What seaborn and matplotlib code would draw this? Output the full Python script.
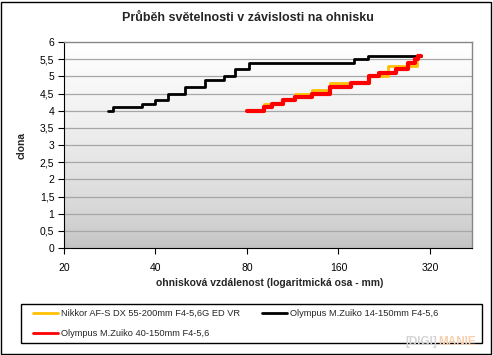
import matplotlib

matplotlib.use("Agg")
import matplotlib.pyplot as plt
import numpy as np
import seaborn as sns
from matplotlib.patches import Rectangle
from matplotlib.ticker import FixedLocator, FuncFormatter, NullLocator

# focal length (35mm equivalent) where each aperture step begins, and the aperture from there on
nikkor_fl = [82, 91, 105, 115, 131, 150, 202, 233, 290, 300]
nikkor_ap = [4.0, 4.2, 4.3, 4.5, 4.6, 4.8, 5.0, 5.3, 5.6, 5.6]

zuiko14_fl = [28, 29, 36, 40, 44, 50, 58, 67, 73, 81, 180, 200, 300]
zuiko14_ap = [4.0, 4.1, 4.2, 4.3, 4.5, 4.7, 4.9, 5.0, 5.2, 5.4, 5.5, 5.6, 5.6]

zuiko40_fl = [80, 91, 97, 105, 115, 131, 150, 176, 202, 217, 247, 271, 286, 292, 300]
zuiko40_ap = [4.0, 4.1, 4.2, 4.3, 4.4, 4.5, 4.7, 4.8, 5.0, 5.1, 5.2, 5.4, 5.5, 5.6, 5.6]

x_ticks = [20, 40, 80, 160, 320]
y_ticks = np.arange(0, 6.01, 0.5)

series = [
    ("Nikkor AF-S DX 55-200mm F4-5,6G ED VR", nikkor_fl, nikkor_ap, "#ffc000", 2.0),
    ("Olympus M.Zuiko 14-150mm F4-5,6", zuiko14_fl, zuiko14_ap, "#000000", 2.0),
    ("Olympus M.Zuiko 40-150mm F4-5,6", zuiko40_fl, zuiko40_ap, "#ff0000", 3.0),
]

sns.set_theme(style="white")
plt.rcParams["font.family"] = ["Liberation Sans", "DejaVu Sans"]

fig = plt.figure(figsize=(4.93, 3.55), dpi=100)
ax = fig.add_axes([64 / 493, 1 - 248 / 355, 408 / 493, 206 / 355])

# vertical gradient of the plot area: grey at the bottom, white at the top
n_bands = 120
bottom_rgb = np.array([0.75, 0.75, 0.75])
for i in range(n_bands):
    t = ((i + 0.5) / n_bands) ** 0.6
    c = bottom_rgb + (1 - bottom_rgb) * t
    ax.axhspan(6 * i / n_bands, 6 * (i + 1) / n_bands, color=c, lw=0, zorder=0)

for v in y_ticks[1:-1]:
    ax.axhline(v, color="#a6a6a6", lw=0.9, zorder=1)

for name, fl, ap, color, lw in series:
    sns.lineplot(x=fl, y=ap, ax=ax, color=color, lw=lw, drawstyle="steps-post",
                 label=name, zorder=3)

ax.set_xscale("log")
ax.set_xlim(20, 440)
ax.set_ylim(0, 6)
ax.xaxis.set_major_locator(FixedLocator(x_ticks))
ax.xaxis.set_minor_locator(NullLocator())
ax.xaxis.set_major_formatter(FuncFormatter(lambda v, p: f"{v:g}"))
ax.yaxis.set_major_locator(FixedLocator(y_ticks))
ax.yaxis.set_major_formatter(FuncFormatter(lambda v, p: f"{v:g}".replace(".", ",")))
ax.tick_params(axis="both", which="major", bottom=True, left=True, direction="out",
               length=4, width=0.8, color="#000000", labelsize=7.5, labelcolor="#000000")
ax.tick_params(axis="y", pad=3)
ax.tick_params(axis="x", pad=7)
ax.set_xlabel("")
ax.set_ylabel("")

for side in ["top", "right"]:
    ax.spines[side].set_color("#868686")
    ax.spines[side].set_linewidth(1.0)
for side in ["left", "bottom"]:
    ax.spines[side].set_color("#000000")
    ax.spines[side].set_linewidth(0.8)

fig.text(248 / 493, 1 - 18 / 355, "Průběh světelnosti v závislosti na ohnisku",
         ha="center", va="center", fontsize=9, fontweight="bold")
fig.text(22 / 493, 1 - 145 / 355, "clona", rotation=90, ha="center", va="center",
         fontsize=7.5, fontweight="bold")
fig.text(270 / 493, 1 - 283 / 355, "ohnisková vzdálenost (logaritmická osa - mm)",
         ha="center", va="center", fontsize=7.5, fontweight="bold")

handles, labels = ax.get_legend_handles_labels()
if ax.get_legend() is not None:
    ax.get_legend().remove()
order = [0, 2, 1]
leg = fig.legend([handles[i] for i in order], [labels[i] for i in order],
                 ncol=2, loc="upper left", bbox_to_anchor=(31 / 493, 1 - 307 / 355),
                 borderaxespad=0, fontsize=6.7, frameon=False,
                 handlelength=2.7, handletextpad=0.3, borderpad=0.2,
                 labelspacing=1.2, columnspacing=2.4)
for line in leg.get_lines():
    line.set_linewidth(2.0)

# fixed-size legend box
fig.patches.append(Rectangle((21 / 493, 1 - 343 / 355), 461 / 493, 39 / 355,
                             transform=fig.transFigure, fill=False,
                             edgecolor="#000000", lw=1.0))

fig.text(405 / 493, 1 - 342 / 355, "[DIGI]", ha="left", va="center", fontsize=8.5,
         fontweight="bold", color="#d4d4d4", zorder=5)
fig.text(438 / 493, 1 - 342 / 355, "MANIE", ha="left", va="center", fontsize=8.5,
         fontweight="bold", color="#f6cfae", zorder=5)

fig.patches.append(Rectangle((0.003, 0.004), 0.992, 0.99, transform=fig.transFigure,
                             fill=False, edgecolor="#000000", lw=1.0))

fig.savefig("out.png", dpi=100)
plt.close(fig)
